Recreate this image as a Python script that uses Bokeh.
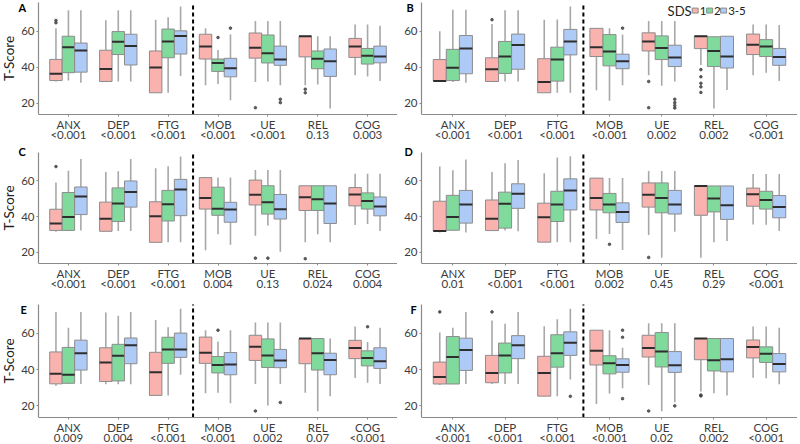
from bokeh.plotting import figure
from bokeh.models import Range1d, FixedTicker, Label
from bokeh.layouts import column, row
from bokeh.embed import file_html
from bokeh.resources import INLINE

categories = ["ANX", "DEP", "FTG", "MOB", "UE", "REL", "COG"]
groups = ["1", "2", "3-5"]
fills = ["#F9B2AD", "#80DA9C", "#AECBF8"]
separator_after = 3   # dashed line between FTG and MOB

# p-values shown under each category, per panel
p_A = ["<0.001", "<0.001", "<0.001", "<0.001", "<0.001", "0.13", "0.003"]
p_B = ["<0.001", "<0.001", "<0.001", "<0.001", "0.002", "0.002", "<0.001"]
p_C = ["<0.001", "<0.001", "<0.001", "0.004", "0.13", "0.024", "0.004"]
p_D = ["0.01", "<0.001", "<0.001", "0.002", "0.45", "0.29", "<0.001"]
p_E = ["0.009", "0.004", "<0.001", "<0.001", "0.002", "0.07", "<0.001"]
p_F = ["<0.001", "<0.001", "<0.001", "<0.001", "0.02", "0.002", "<0.001"]

# Box statistics: one row per SDS group (1, 2, 3-5), columns = categories
A_lo = [[32.0, 32.0, 25.7, 29.9, 31.7, 29.9, 35.5], [32.5, 32.0, 25.7, 30.6, 32.0, 30.3, 34.8], [31.3, 32.0, 35.1, 21.6, 29.9, 16.9, 32.2]]
A_q1 = [[32.5, 32.0, 25.7, 44.5, 45.0, 45.7, 45.4], [36.9, 47.0, 45.2, 37.6, 42.3, 39.1, 41.7], [37.2, 41.2, 47.3, 34.6, 41.0, 34.8, 42.4]]
A_md = [[36.3, 39.0, 39.8, 51.5, 50.8, 57.2, 51.5], [51.1, 54.1, 54.3, 42.3, 47.7, 44.7, 46.3], [49.2, 51.7, 57.4, 39.3, 44.2, 43.3, 45.9]]
A_q3 = [[44.3, 49.4, 49.0, 58.3, 59.0, 57.2, 56.0], [57.2, 59.8, 61.2, 44.5, 57.9, 49.0, 50.4], [53.4, 58.3, 60.2, 44.9, 51.7, 50.1, 51.7]]
A_hi = [[61.6, 66.1, 66.4, 61.6, 65.7, 57.2, 63.8], [71.7, 71.7, 67.8, 49.6, 65.7, 57.2, 63.8], [71.7, 71.7, 73.7, 58.1, 65.7, 57.2, 63.0]]
A_out_cat = [0, 0, 4, 5, 5, 3, 3, 4, 4]
A_out_grp = [0, 0, 0, 0, 0, 1, 2, 2, 2]
A_out_val = [66.0, 64.7, 17.4, 27.7, 25.7, 56.5, 61.7, 22.1, 20.2]

B_lo = [[32.0, 32.0, 25.7, 27.1, 35.5, 41.2, 35.5], [31.7, 32.0, 25.7, 21.2, 29.6, 16.9, 36.9], [31.3, 32.0, 25.7, 29.9, 32.0, 27.3, 32.2]]
B_q1 = [[32.3, 32.0, 25.7, 45.9, 49.0, 50.3, 47.0], [32.5, 36.5, 32.2, 40.7, 44.2, 40.3, 45.9], [36.3, 38.8, 46.8, 39.1, 40.3, 39.5, 41.0]]
B_md = [[32.3, 38.8, 31.7, 51.1, 54.3, 57.2, 52.5], [39.7, 45.9, 44.3, 48.7, 50.6, 49.0, 51.5], [50.4, 52.3, 54.3, 43.3, 45.4, 45.9, 45.6]]
B_q3 = [[44.2, 45.2, 44.7, 61.6, 59.1, 57.2, 58.4], [49.9, 54.3, 51.1, 58.1, 57.4, 56.9, 55.3], [57.6, 58.4, 61.0, 47.2, 52.2, 57.2, 50.4]]
B_hi = [[60.0, 64.0, 66.4, 61.6, 65.7, 57.2, 63.8], [72.0, 71.7, 66.5, 61.6, 65.7, 57.2, 63.8], [72.0, 71.7, 73.7, 58.1, 65.7, 57.2, 63.5]]
B_out_cat = [1, 4, 4, 5, 5, 5, 5, 5, 3, 4, 4, 4, 4]
B_out_grp = [0, 0, 0, 0, 0, 0, 0, 0, 2, 2, 2, 2, 2]
B_out_val = [66.4, 32.0, 17.4, 38.6, 34.6, 31.0, 29.0, 25.9, 61.7, 22.1, 20.2, 18.6, 17.2]

C_lo = [[31.5, 31.7, 25.5, 21.1, 29.2, 25.5, 35.2], [32.2, 31.9, 25.5, 30.1, 35.0, 30.1, 35.8], [32.2, 31.9, 25.5, 24.2, 20.2, 25.5, 31.9]]
C_q1 = [[32.2, 31.7, 25.5, 44.2, 46.5, 43.4, 46.0], [32.2, 37.2, 37.5, 40.7, 41.4, 43.4, 44.2], [41.1, 45.3, 40.5, 36.8, 38.6, 36.1, 40.4]]
C_md = [[36.1, 38.8, 40.2, 50.4, 52.2, 50.8, 52.4], [39.8, 47.3, 46.9, 44.4, 48.1, 49.7, 48.7], [51.3, 53.8, 55.2, 43.9, 44.1, 47.3, 45.7]]
C_q3 = [[44.1, 48.1, 48.3, 61.9, 60.5, 57.3, 56.3], [53.5, 56.1, 54.7, 56.5, 57.3, 57.3, 53.3], [56.6, 60.0, 60.9, 48.0, 52.4, 57.3, 51.0]]
C_hi = [[59.1, 65.0, 67.1, 61.9, 66.2, 57.3, 64.1], [65.8, 65.5, 68.3, 61.9, 66.2, 57.3, 64.1], [72.4, 72.4, 73.8, 61.9, 66.2, 57.3, 64.1]]
C_out_cat = [0, 4, 5, 4]
C_out_grp = [0, 0, 0, 1]
C_out_val = [68.1, 16.6, 16.3, 16.6]

D_lo = [[31.0, 32.1, 25.6, 27.4, 29.6, 16.8, 35.5], [32.3, 32.1, 25.6, 30.2, 16.8, 25.6, 35.4], [31.0, 31.8, 25.6, 21.2, 31.4, 26.3, 31.9]]
D_q1 = [[31.9, 32.1, 25.6, 43.7, 45.3, 40.7, 45.8], [32.3, 33.5, 37.2, 42.1, 42.1, 42.6, 44.2], [36.3, 44.6, 43.7, 36.7, 41.4, 38.4, 39.3]]
D_md = [[31.9, 38.8, 39.6, 50.4, 52.3, 57.2, 52.5], [39.8, 47.2, 46.8, 46.8, 50.4, 50.2, 49.3], [46.7, 52.8, 54.7, 42.6, 46.7, 46.3, 45.4]]
D_q3 = [[48.6, 49.3, 47.5, 61.6, 58.9, 57.2, 56.0], [51.9, 53.7, 54.2, 53.0, 58.9, 57.2, 54.2], [54.7, 58.4, 61.2, 47.7, 54.7, 57.2, 51.8]]
D_hi = [[68.2, 65.1, 64.4, 61.6, 65.6, 57.2, 63.9], [66.0, 70.0, 73.2, 61.6, 65.6, 57.2, 63.9], [72.1, 71.8, 73.9, 61.6, 65.6, 57.2, 63.9]]
D_out_cat = [4, 3]
D_out_grp = [0, 1]
D_out_val = [17.0, 24.4]

E_lo = [[31.2, 31.9, 25.8, 27.0, 32.1, 27.2, 35.4], [32.1, 32.0, 25.8, 27.2, 20.2, 17.0, 32.8], [32.1, 31.9, 37.2, 21.4, 32.1, 25.4, 32.1]]
E_q1 = [[32.2, 33.5, 25.8, 43.5, 45.1, 43.3, 46.1], [32.5, 33.8, 43.5, 38.2, 41.2, 39.8, 42.1], [39.8, 43.3, 46.8, 37.2, 41.1, 37.2, 40.7]]
E_md = [[37.7, 44.0, 38.6, 49.4, 52.6, 57.2, 52.0], [37.2, 47.7, 51.1, 42.6, 47.9, 49.1, 46.4], [49.1, 53.5, 51.1, 42.8, 45.1, 45.3, 44.7]]
E_q3 = [[49.8, 52.1, 49.6, 58.0, 59.0, 57.2, 56.2], [52.3, 54.0, 57.9, 47.3, 57.0, 57.2, 50.4], [56.3, 57.5, 60.2, 49.5, 51.2, 49.1, 52.1]]
E_hi = [[71.9, 71.6, 67.5, 61.8, 66.1, 57.2, 63.8], [63.2, 69.8, 63.5, 55.5, 66.1, 57.2, 55.3], [71.9, 71.9, 73.7, 61.8, 66.1, 57.2, 63.2]]
E_out_cat = [4, 3, 6, 4]
E_out_grp = [0, 1, 1, 2]
E_out_val = [17.2, 61.8, 63.7, 21.9]

F_lo = [[31.6, 32.1, 25.4, 21.1, 31.5, 28.0, 35.5], [32.1, 32.1, 25.4, 26.8, 17.0, 27.0, 35.3], [32.1, 32.1, 34.6, 29.8, 22.0, 25.8, 32.0]]
F_q1 = [[32.1, 32.8, 25.4, 42.6, 47.0, 45.5, 46.5], [32.1, 38.2, 41.4, 37.7, 41.5, 39.3, 44.0], [39.6, 46.1, 47.9, 38.6, 38.5, 38.8, 38.8]]
F_md = [[36.0, 38.2, 38.2, 50.5, 52.0, 57.2, 52.5], [47.0, 47.9, 49.1, 43.5, 50.0, 45.2, 48.8], [50.9, 53.5, 54.9, 42.6, 42.5, 45.8, 43.1]]
F_q3 = [[44.2, 47.9, 47.4, 61.8, 59.0, 57.2, 56.4], [58.3, 54.7, 59.3, 47.7, 60.5, 57.2, 52.6], [57.4, 58.8, 60.9, 46.0, 50.0, 57.2, 48.9]]
F_hi = [[60.5, 67.2, 64.0, 61.8, 65.7, 57.2, 63.8], [63.2, 65.3, 67.9, 61.8, 65.7, 57.2, 63.8], [71.9, 71.9, 73.7, 52.1, 65.7, 57.2, 63.2]]
F_out_cat = [0, 1, 4, 5, 5, 2, 3, 3, 3, 4]
F_out_grp = [0, 0, 0, 0, 0, 2, 2, 2, 2, 2]
F_out_val = [71.9, 71.9, 17.2, 26.0, 25.5, 25.3, 61.8, 57.9, 24.0, 20.0]

y_ticks = [20, 40, 60]
Y_LO, Y_HI = 13.6, 76.0      # extent of the drawn axes
X_LO, X_HI = 0.4, 7.6

FONT = "Lato"
GREY_AX = "#8a8a8a"
WHISK = "#a8a8a8"
BOXLINE = "#8c8c8c"
TXT = "#3c3c3c"


def panel(letter, lo, q1, md, q3, hi, oc, og, ov, pv, left, frame_h, y_end, letter_px, letter_y, legend=False):
    frame_w = 397 if left else 400
    axis_px = 38 if left else 24          # pixels left of the y axis inside the frame
    scale = (frame_w - axis_px) / (X_HI - X_LO)
    x_start = X_LO - axis_px / scale
    p = figure(frame_width=frame_w, frame_height=frame_h,
               x_range=Range1d(x_start, X_HI), y_range=Range1d(Y_LO, y_end),
               output_backend="svg", toolbar_location=None,
               min_border_left=0, min_border_right=0, min_border_top=0, min_border_bottom=0)
    p.xgrid.visible = False
    p.ygrid.visible = False
    p.outline_line_color = None
    bw = 0.25
    for g in range(3):
        xs = [i + 1 + (g - 1) * bw for i in range(7)]
        p.segment(x0=xs, y0=lo[g], x1=xs, y1=q1[g], line_color=WHISK, line_width=1.6)
        p.segment(x0=xs, y0=q3[g], x1=xs, y1=hi[g], line_color=WHISK, line_width=1.6)
        p.quad(left=[x - bw / 2 for x in xs], right=[x + bw / 2 for x in xs], bottom=q1[g], top=q3[g],
               fill_color=fills[g], line_color=BOXLINE, line_width=1)
        p.segment(x0=[x - bw / 2 for x in xs], y0=md[g], x1=[x + bw / 2 for x in xs], y1=md[g],
                  line_color="#2e2e2e", line_width=2)
    ox = [c + 1 + (g - 1) * bw for c, g in zip(oc, og)]
    p.scatter(x=ox, y=ov, size=2.6, color="#444444", alpha=0.85)
    sx = separator_after + 0.5
    p.segment(x0=[sx], y0=[Y_LO], x1=[sx], y1=[Y_HI], line_color="black", line_width=2, line_dash="4 3")

    p.xaxis.ticker = FixedTicker(ticks=list(range(1, 8)))
    p.xaxis.major_label_overrides = {i + 1: categories[i] + "\n" + pv[i] for i in range(7)}
    p.xaxis.bounds = (X_LO, X_HI)
    p.yaxis.ticker = FixedTicker(ticks=y_ticks)
    p.yaxis.fixed_location = X_LO
    p.yaxis.bounds = (Y_LO, Y_HI)
    for ax in (p.xaxis[0], p.yaxis[0]):
        ax.axis_line_color = GREY_AX
        ax.axis_line_width = 1.2
        ax.major_tick_line_color = GREY_AX
        ax.major_tick_out = 2
        ax.major_tick_in = 0
        ax.minor_tick_line_color = None
        ax.major_label_text_font = FONT
        ax.major_label_text_font_size = "11.5px"
        ax.major_label_text_color = TXT
    p.xaxis.major_label_standoff = 1
    p.yaxis.major_label_standoff = 2
    p.xaxis.major_label_text_line_height = 0.84
    if left:
        p.yaxis.axis_label = "T-Score"
        p.yaxis.axis_label_text_font = FONT
        p.yaxis.axis_label_text_font_size = "13.5px"
        p.yaxis.axis_label_text_font_style = "normal"
        p.yaxis.axis_label_text_color = "#222222"
        p.yaxis.axis_label_standoff = 1
    letter_x = x_start + letter_px / scale
    p.add_layout(Label(x=letter_x, y=letter_y, text=letter,
                       text_font=FONT, text_font_size="11px", text_font_style="bold",
                       text_color="black", text_baseline="middle"))
    if legend:
        ly = 71.5
        p.add_layout(Label(x=5.113, y=ly, text="SDS", text_font=FONT, text_font_size="13px",
                           text_color="#222222", text_baseline="middle"))
        kx = [5.640, 5.917, 6.185]
        tx = [5.726, 6.003, 6.272]
        p.rect(x=kx, y=[ly] * 3, width=6, height=5, width_units="screen", height_units="screen",
               fill_color=fills, line_color=BOXLINE, line_width=1)
        for t, lab in zip(tx, groups):
            p.add_layout(Label(x=t, y=ly, text=lab, text_font=FONT, text_font_size="11.5px",
                               text_color="#222222", text_baseline="middle"))
    return p


pA = panel("A", A_lo, A_q1, A_md, A_q3, A_hi, A_out_cat, A_out_grp, A_out_val, p_A, True, 114, 77.11, 18, 73.2)
pB = panel("B", B_lo, B_q1, B_md, B_q3, B_hi, B_out_cat, B_out_grp, B_out_val, p_B, False, 114, 77.11, 9, 73.2, legend=True)
pC = panel("C", C_lo, C_q1, C_md, C_q3, C_hi, C_out_cat, C_out_grp, C_out_val, p_C, True, 119, 80.5, 18, 76.6)
pD = panel("D", D_lo, D_q1, D_md, D_q3, D_hi, D_out_cat, D_out_grp, D_out_val, p_D, False, 119, 80.5, 7, 76.6)
pE = panel("E", E_lo, E_q1, E_md, E_q3, E_hi, E_out_cat, E_out_grp, E_out_val, p_E, True, 124, 82.07, 20, 73.2)
pF = panel("F", F_lo, F_q1, F_md, F_q3, F_hi, F_out_cat, F_out_grp, F_out_val, p_F, False, 124, 82.07, 13, 73.2)

layout = column(row(pA, pB), row(pC, pD), row(pE, pF))
open("out.html", "w").write(file_html(layout, INLINE))
